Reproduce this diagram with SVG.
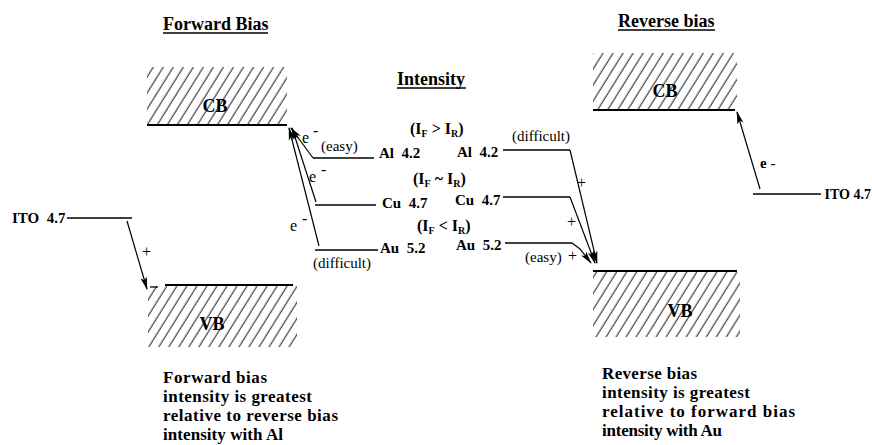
<svg xmlns="http://www.w3.org/2000/svg" width="872" height="445" viewBox="0 0 872 445">
<defs>
<pattern id="hatch" patternUnits="userSpaceOnUse" width="8.5" height="8.5" patternTransform="rotate(32)">
<line x1="4" y1="0" x2="4" y2="8.5" stroke="#000" stroke-width="0.9"/>
</pattern>
<marker id="ah" markerWidth="13" markerHeight="8" refX="12" refY="4" orient="auto" markerUnits="userSpaceOnUse">
<path d="M0,0.8 L13,4 L0,7.2 L3,4 Z" fill="#000"/>
</marker>
<style>
.t{font-family:"Liberation Serif","Times New Roman",serif;fill:#000}
.b{font-weight:bold}
.s14{font-size:14px}
.s15{font-size:15px}
.s16{font-size:16px}
.s17{font-size:17px}
.s18{font-size:18px}
.ln{stroke:#000;stroke-width:1.3;fill:none}
.bd{stroke:#000;stroke-width:1.8;fill:none}
.ar{stroke:#000;stroke-width:1.2;fill:none;marker-end:url(#ah)}
</style>
</defs>
<rect width="872" height="445" fill="#fff"/>

<g id="titles">
<text class="t b s18" x="163" y="30">Forward Bias</text>
<line class="ln" x1="163" y1="33" x2="268" y2="33"/>
<text class="t b s18" x="397" y="85">Intensity</text>
<line class="ln" x1="397" y1="88" x2="466" y2="88"/>
<text class="t b s18" x="618" y="27">Reverse bias</text>
<line class="ln" x1="618" y1="30" x2="715" y2="30"/>
</g>

<g id="cb-left">
<rect x="147" y="67" width="140" height="58" fill="url(#hatch)"/>
<line class="bd" x1="147" y1="125" x2="287" y2="125"/>
<text class="t b s18" x="215" y="112" text-anchor="middle">CB</text>
</g>
<g id="vb-left">
<rect x="148" y="286" width="149" height="61" fill="url(#hatch)"/>
<line class="bd" x1="165" y1="285" x2="293" y2="285"/>
<line class="ln" x1="150" y1="287" x2="158" y2="287"/>
<text class="t b s18" x="212" y="330" text-anchor="middle">VB</text>
</g>
<g id="cb-right">
<rect x="593" y="53" width="144" height="57" fill="url(#hatch)"/>
<line class="bd" x1="593" y1="110" x2="735" y2="110"/>
<text class="t b s18" x="665" y="97" text-anchor="middle">CB</text>
</g>
<g id="vb-right">
<rect x="593" y="272" width="147" height="65" fill="url(#hatch)"/>
<line class="bd" x1="593" y1="271" x2="737" y2="271"/>
<text class="t b s18" x="680" y="317" text-anchor="middle">VB</text>
</g>

<g id="ito-left">
<text class="t b s15" x="12" y="223" xml:space="preserve">ITO  4.7</text>
<line class="ln" x1="67" y1="218" x2="132" y2="218"/>
</g>
<g id="ito-right">
<line class="ln" x1="753" y1="194" x2="821" y2="194"/>
<text class="t b s14" x="871" y="199" text-anchor="end">ITO 4.7</text>
</g>

<g id="metals-left">
<line class="ln" x1="313" y1="158" x2="374" y2="158"/>
<text class="t b s15" x="379" y="158" xml:space="preserve">Al  4.2</text>
<line class="ln" x1="315" y1="205" x2="376" y2="205"/>
<text class="t b s15" x="382" y="208" xml:space="preserve">Cu  4.7</text>
<line class="ln" x1="315" y1="250" x2="378" y2="250"/>
<text class="t b s15" x="380" y="253" xml:space="preserve">Au  5.2</text>
</g>
<g id="metals-right">
<text class="t b s15" x="457" y="157" xml:space="preserve">Al  4.2</text>
<line class="ln" x1="503" y1="150" x2="570" y2="150"/>
<text class="t b s15" x="455" y="205" xml:space="preserve">Cu  4.7</text>
<line class="ln" x1="503" y1="197" x2="570" y2="197"/>
<text class="t b s15" x="456" y="250" xml:space="preserve">Au  5.2</text>
<line class="ln" x1="505" y1="243" x2="572" y2="243"/>
</g>

<g id="intensity-labels">
<text class="t b s16" x="410" y="134">(I<tspan font-size="10" dy="3">F</tspan><tspan dy="-3"> &gt; I</tspan><tspan font-size="10" dy="3">R</tspan><tspan dy="-3">)</tspan></text>
<text class="t b s16" x="413" y="184">(I<tspan font-size="10" dy="3">F</tspan><tspan dy="-3"> ~ I</tspan><tspan font-size="10" dy="3">R</tspan><tspan dy="-3">)</tspan></text>
<text class="t b s16" x="417" y="231">(I<tspan font-size="10" dy="3">F</tspan><tspan dy="-3"> &lt; I</tspan><tspan font-size="10" dy="3">R</tspan><tspan dy="-3">)</tspan></text>
</g>

<g id="connectors">
<path class="ar" d="M127,221 L147,289"/>
<path class="ar" d="M313,158 L291,128"/>
<path class="ar" d="M316,202 L292,128"/>
<path class="ar" d="M319,246 L289,128"/>
<path class="ar" d="M570,150 L597,263"/>
<path class="ar" d="M570,197 L595,263"/>
<path class="ar" d="M572,243 L580,249 L591,263"/>
<path class="ar" d="M760,189 L737,112"/>
</g>

<g id="arrow-labels">
<text class="t s16" x="142" y="257">+</text>
<text class="t s16" x="302" y="143">e<tspan dx="4" dy="-7">-</tspan></text>
<text class="t s15" x="321" y="151">(easy)</text>
<text class="t s16" x="309" y="182">e<tspan dx="5" dy="-7">-</tspan></text>
<text class="t s16" x="290" y="231">e<tspan dx="5" dy="-7">-</tspan></text>
<text class="t s15" x="313" y="268">(difficult)</text>
<text class="t s15" x="512" y="141">(difficult)</text>
<text class="t s16" x="577" y="188">+</text>
<text class="t s16" x="567" y="227">+</text>
<text class="t s15" x="525" y="262">(easy)</text>
<text class="t s16" x="568" y="261">+</text>
<text class="t b s15" x="760" y="168">e -</text>
</g>

<g id="notes">
<text class="t b s17" x="163" y="383" textLength="104">Forward bias</text>
<text class="t b s17" x="163" y="402" textLength="149">intensity is greatest</text>
<text class="t b s17" x="163" y="421" textLength="175">relative to reverse bias</text>
<text class="t b s17" x="163" y="440" textLength="120">intensity with Al</text>
<text class="t b s17" x="602" y="379" textLength="95">Reverse bias</text>
<text class="t b s17" x="602" y="398" textLength="148">intensity is greatest</text>
<text class="t b s17" x="602" y="417" textLength="193">relative to forward bias</text>
<text class="t b s17" x="602" y="436" textLength="120">intensity with Au</text>
</g>
</svg>
